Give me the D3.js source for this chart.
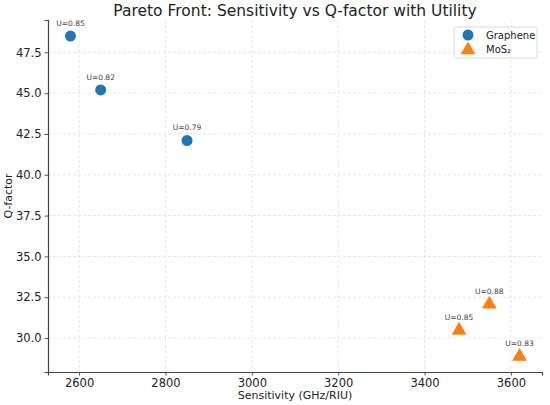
<!DOCTYPE html>
<html>
<head>
<meta charset="utf-8">
<script src="https://cdn.jsdelivr.net/npm/d3@7"></script>
<style>
  body { margin: 0; background: #fff; }
  svg { font-family: "DejaVu Sans", sans-serif; }
</style>
</head>
<body>
<div class="chart"></div>
<script>
const grapheneSens = [2580, 2650, 2850]
const grapheneQ = [48.5, 45.2, 42.1]
const grapheneU = [0.85, 0.82, 0.79]

const mosSens = [3480, 3550, 3620]
const mosQ = [30.5, 32.1, 28.9]
const mosU = [0.85, 0.88, 0.83]

const xTicks = [2600, 2800, 3000, 3200, 3400, 3600]
const yTicks = [30.0, 32.5, 35.0, 37.5, 40.0, 42.5, 45.0, 47.5]

const width = 550
const height = 405
const margin = { top: 20, right: 8, bottom: 33, left: 48 }
const graphWidth = width - margin.left - margin.right
const graphHeight = height - margin.top - margin.bottom

const svg = d3.select(".chart").append("svg").attr("width", width).attr("height", height)

const graph = svg.append("g").attr("transform", `translate(${margin.left}, ${margin.top})`)

const xScale = d3.scaleLinear().domain([2528, 3672]).range([0, graphWidth])
const yScale = d3.scaleLinear().domain([27.92, 49.48]).range([graphHeight, 0])

// grid
graph.append("g")
  .selectAll("line")
  .data(xTicks)
  .join("line")
  .attr("x1", d => xScale(d)).attr("x2", d => xScale(d))
  .attr("y1", 0).attr("y2", graphHeight)
  .attr("stroke", "#e0e0e0").attr("stroke-width", 0.8).attr("stroke-dasharray", "3,2")

graph.append("g")
  .selectAll("line")
  .data(yTicks)
  .join("line")
  .attr("y1", d => yScale(d)).attr("y2", d => yScale(d))
  .attr("x1", 0).attr("x2", graphWidth)
  .attr("stroke", "#e0e0e0").attr("stroke-width", 0.8).attr("stroke-dasharray", "3,2")

// axes
const xAxis = d3.axisBottom(xScale).tickValues(xTicks).tickSize(3.5).tickPadding(3).tickFormat(d3.format("d"))
const yAxis = d3.axisLeft(yScale).tickValues(yTicks).tickSize(3.5).tickPadding(3).tickFormat(d3.format(".1f"))

const xAxisGroup = graph.append("g").attr("transform", `translate(0, ${graphHeight})`).call(xAxis)
const yAxisGroup = graph.append("g").call(yAxis)

;[xAxisGroup, yAxisGroup].forEach(g => {
  g.select(".domain").attr("stroke", "#444").attr("stroke-width", 1.2)
  g.selectAll(".tick line").attr("stroke", "#444").attr("stroke-width", 0.9)
  g.selectAll(".tick text").attr("fill", "#222").style("font-size", "11.5px").style("font-family", "DejaVu Sans")
})

// points
const grapheneData = grapheneSens.map((s, i) => ({ s, q: grapheneQ[i], u: grapheneU[i] }))
const mosData = mosSens.map((s, i) => ({ s, q: mosQ[i], u: mosU[i] }))

graph.append("g")
  .selectAll("circle")
  .data(grapheneData)
  .join("circle")
  .attr("cx", d => xScale(d.s))
  .attr("cy", d => yScale(d.q))
  .attr("r", 5.5)
  .attr("fill", "#1f77b4")

const tri = d3.symbol().type(d3.symbolTriangle).size(95)

graph.append("g")
  .selectAll("path")
  .data(mosData)
  .join("path")
  .attr("d", tri)
  .attr("transform", d => `translate(${xScale(d.s)}, ${yScale(d.q) + 0.5})`)
  .attr("fill", "#ff7f0e")

// utility labels
graph.append("g")
  .selectAll("text")
  .data(grapheneData.concat(mosData))
  .join("text")
  .attr("x", d => xScale(d.s))
  .attr("y", d => yScale(d.q) - 10)
  .attr("text-anchor", "middle")
  .attr("fill", "#444")
  .style("font-size", "7.5px")
  .text(d => `U=${d.u.toFixed(2)}`)

// title and labels
svg.append("text")
  .attr("x", margin.left + graphWidth / 2)
  .attr("y", 16)
  .attr("text-anchor", "middle")
  .attr("fill", "#222")
  .style("font-size", "15.5px")
  .text("Pareto Front: Sensitivity vs Q-factor with Utility")

svg.append("text")
  .attr("x", margin.left + graphWidth / 2)
  .attr("y", 399)
  .attr("text-anchor", "middle")
  .attr("fill", "#222")
  .style("font-size", "11px")
  .text("Sensitivity (GHz/RIU)")

svg.append("text")
  .attr("transform", `translate(12, ${margin.top + graphHeight / 2}) rotate(-90)`)
  .attr("text-anchor", "middle")
  .attr("fill", "#222")
  .style("font-size", "11px")
  .text("Q-factor")

// legend
const legend = svg.append("g").attr("transform", "translate(454, 27)")
legend.append("rect")
  .attr("width", 83).attr("height", 31).attr("rx", 2)
  .attr("fill", "#fff").attr("fill-opacity", 0.8)
  .attr("stroke", "#d0d0d0").attr("stroke-width", 0.8)

legend.append("circle").attr("cx", 14).attr("cy", 8).attr("r", 5.5).attr("fill", "#1f77b4")
legend.append("path").attr("d", tri).attr("transform", "translate(14, 23)").attr("fill", "#ff7f0e")

legend.append("text").attr("x", 32).attr("y", 11.5).attr("fill", "#222").style("font-size", "10px").text("Graphene")
legend.append("text").attr("x", 32).attr("y", 26).attr("fill", "#222").style("font-size", "10px").text("MoS₂")
</script>
</body>
</html>
